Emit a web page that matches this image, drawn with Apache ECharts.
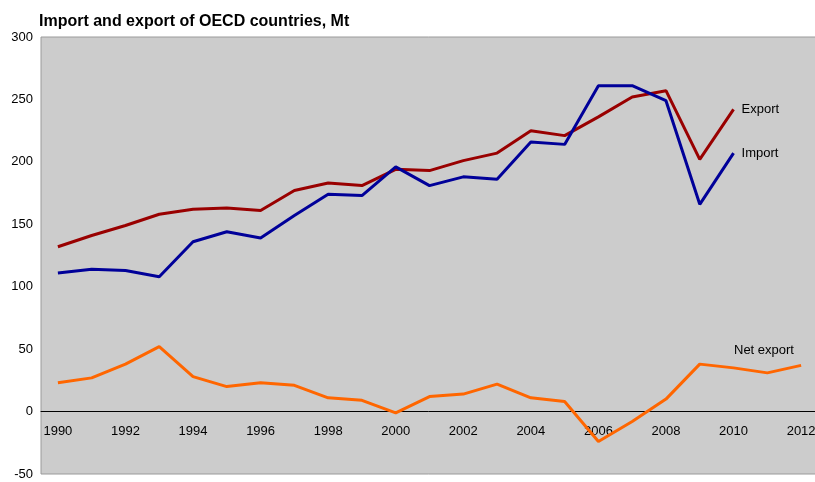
<!DOCTYPE html>
<html>
<head>
<meta charset="utf-8">
<script src="https://cdn.jsdelivr.net/npm/echarts@6/dist/echarts.min.js"></script>
<style>
  html, body { margin: 0; padding: 0; background: #fff; }
  #main { width: 815px; height: 482px; }
</style>
</head>
<body>
<div id="main"></div>
<script>
// years on the x axis
var years = ['1990','1991','1992','1993','1994','1995','1996','1997','1998','1999','2000','2001',
             '2002','2003','2004','2005','2006','2007','2008','2009','2010','2011','2012'];
// values (Mt)
var exportData = [132, 141, 149, 158, 162, 163, 161, 177, 183, 181, 194, 193,
                  201, 207, 225, 221, 236, 252, 257, 202, 242, null, null];
var importData = [111, 114, 113, 108, 136, 144, 139, 157, 174, 173, 196, 181,
                  188, 186, 216, 214, 261, 261, 249, 166, 207, null, null];
var netData = [23, 27, 38, 52, 28, 20, 23, 21, 11, 9, -1, 12,
               14, 22, 11, 8, -24, -8, 10, 38, 35, 31, 37];
var yTicks = { min: -50, max: 300, step: 50 };

var myChart = echarts.init(document.getElementById('main'));
var font = "'Liberation Sans', Arial, sans-serif";

var option = {
    backgroundColor: '#ffffff',
    animation: false,
    title: {
        text: 'Import and export of OECD countries, Mt',
        left: 34,
        top: 9,
        textStyle: { fontFamily: font, fontSize: 16, fontWeight: 'bold', color: '#000' }
    },
    grid: {
        left: 41,
        top: 37,
        width: 777,
        height: 437,
        containLabel: false,
        outerBoundsMode: 'none',
        show: true,
        backgroundColor: '#cccccc',
        borderColor: '#9a9a9a',
        borderWidth: 1
    },
    xAxis: [
        {
            // zero line
            type: 'category',
            data: years,
            boundaryGap: true,
            axisLine: { onZero: true, lineStyle: { color: '#000', width: 1 } },
            axisTick: { show: false },
            axisLabel: { show: false },
            splitLine: { show: false }
        },
        {
            // year labels just under the zero line
            type: 'category',
            data: years,
            boundaryGap: true,
            position: 'bottom',
            offset: -62,
            axisLine: { show: false },
            axisTick: { show: false },
            axisLabel: {
                interval: 1,
                margin: 13,
                color: '#000',
                fontFamily: font,
                fontSize: 13
            },
            splitLine: { show: false }
        }
    ],
    yAxis: {
        type: 'value',
        min: yTicks.min,
        max: yTicks.max,
        interval: yTicks.step,
        axisLine: { show: false },
        axisTick: { show: false },
        splitLine: { show: false },
        axisLabel: { margin: 8, color: '#000', fontFamily: font, fontSize: 13 }
    },
    series: [
        {
            name: 'Export',
            type: 'line',
            data: exportData,
            symbol: 'none',
            lineStyle: { color: '#990000', width: 3 },
            endLabel: { show: true, formatter: '{a}', distance: 8, color: '#000', fontFamily: font, fontSize: 13 }
        },
        {
            name: 'Import',
            type: 'line',
            data: importData,
            symbol: 'none',
            lineStyle: { color: '#000099', width: 3 },
            endLabel: { show: true, formatter: '{a}', distance: 8, color: '#000', fontFamily: font, fontSize: 13 }
        },
        {
            name: 'Net export',
            type: 'line',
            data: netData,
            symbol: 'none',
            lineStyle: { color: '#ff6600', width: 3 }
        }
    ],
    graphic: [
        {
            type: 'text',
            left: 734,
            top: 344,
            style: { text: 'Net export', fill: '#000', font: '13px ' + font }
        }
    ]
};
myChart.setOption(option);
</script>
</body>
</html>
